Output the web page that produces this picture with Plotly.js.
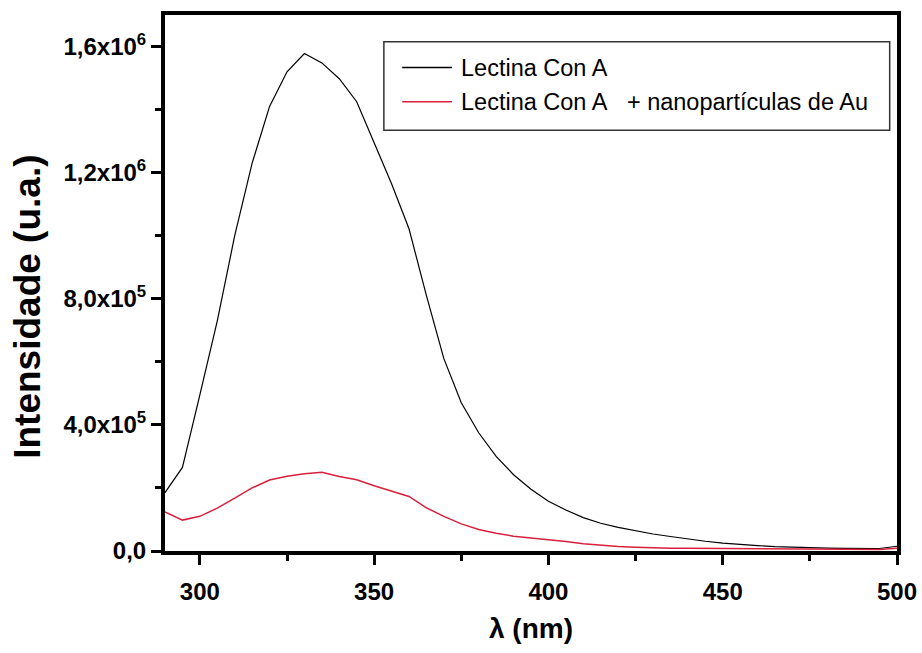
<!DOCTYPE html>
<html>
<head>
<meta charset="utf-8">
<script src="https://cdn.plot.ly/plotly-3.0.1.min.js"></script>
<style>
  html, body { margin: 0; padding: 0; background: #fff; }
  #chart { width: 922px; height: 653px; }
</style>
</head>
<body>
<div id="chart"></div>
<script>
// Emission spectra (wavelength in nm, intensity in arbitrary units)
const wavelength = [290, 295, 300, 305, 310, 315, 320, 325, 330, 335, 340, 345, 350, 355, 360,
  365, 370, 375, 380, 385, 390, 395, 400, 405, 410, 415, 420, 425, 430, 435, 440, 445, 450,
  455, 460, 465, 470, 475, 480, 485, 490, 495, 500];

const lectina = [185000, 265000, 495000, 730000, 1000000, 1230000, 1410000, 1520000, 1578000,
  1548000, 1498000, 1425000, 1295000, 1165000, 1022000, 810000, 610000, 470000, 375000, 300000,
  242000, 196000, 158000, 130000, 106000, 88000, 75000, 64000, 54000, 46000, 38000, 31000, 25000,
  20000, 17000, 14000, 12000, 10000, 9000, 8500, 8000, 8000, 15000];

const lectinaAu = [124000, 98000, 110000, 136000, 168000, 200000, 225000, 237000, 245000, 250000,
  236000, 226000, 207000, 190000, 173000, 137000, 110000, 86000, 68000, 56000, 47000, 41000,
  36000, 30000, 23000, 18000, 14000, 12000, 10000, 9000, 8500, 8000, 8000, 8000, 8000, 8000,
  7000, 6000, 5000, 5000, 5000, 5000, 9000];

const seriesNames = ['Lectina Con A', 'Lectina Con A\u00a0\u00a0 + nanopartículas de Au'];
const seriesColors = ['#000000', '#d8203c'];

const xTickVals = [300, 350, 400, 450, 500];
const yTickVals = [0, 400000, 800000, 1200000, 1600000];
const yTickText = ['0,0', '4,0x10<sup>5</sup>', '8,0x10<sup>5</sup>', '1,2x10<sup>6</sup>', '1,6x10<sup>6</sup>'];
const yMinorVals = [200000, 600000, 1000000, 1400000];

const xTitle = 'λ (nm)';
const yTitle = 'Intensidade (u.a.)';

const FONT = 'Liberation Sans, Arial, sans-serif';

const traces = [
  { x: wavelength, y: lectina, name: seriesNames[0], type: 'scatter', mode: 'lines',
    line: { color: seriesColors[0], width: 1.2 }, showlegend: false },
  { x: wavelength, y: lectinaAu, name: seriesNames[1], type: 'scatter', mode: 'lines',
    line: { color: seriesColors[1], width: 1.5 }, showlegend: false }
];

// Boxed key in the upper right of the plot area
const key = { x0: 0.299, x1: 0.990, y0: 0.785, y1: 0.950, lineX0: 0.324, lineX1: 0.392, textX: 0.401 };
const keyRows = [0.902, 0.838];

const shapes = [
  { type: 'rect', xref: 'paper', yref: 'paper', x0: key.x0, x1: key.x1, y0: key.y0, y1: key.y1,
    line: { color: '#333', width: 1.5 }, fillcolor: 'rgba(0,0,0,0)' }
];
const annotations = [];
seriesNames.forEach((name, i) => {
  shapes.push({ type: 'line', xref: 'paper', yref: 'paper', x0: key.lineX0, x1: key.lineX1,
    y0: keyRows[i], y1: keyRows[i], line: { color: seriesColors[i], width: 1.5 } });
  annotations.push({ xref: 'paper', yref: 'paper', x: key.textX, y: keyRows[i], text: name,
    showarrow: false, xanchor: 'left', yanchor: 'middle',
    font: { family: FONT, size: 23.5, color: '#000' } });
});

// Vertical axis title, set a little below the plot's mid-height
annotations.push({ xref: 'paper', yref: 'paper', x: -0.189, y: 0.455, text: yTitle,
  textangle: -90, showarrow: false, xanchor: 'center', yanchor: 'middle',
  font: { family: FONT, size: 37, color: '#000', weight: 'bold' } });

const layout = {
  width: 922, height: 653,
  margin: { l: 165, r: 25, t: 15, b: 102 },
  paper_bgcolor: '#fff', plot_bgcolor: '#fff',
  showlegend: false,
  xaxis: {
    range: [290, 500],
    tickmode: 'array', tickvals: xTickVals,
    ticks: 'outside', ticklen: 10, tickwidth: 3, tickcolor: '#000',
    ticklabelstandoff: 6,
    minor: { dtick: 25, tick0: 300, ticks: 'outside', ticklen: 6, tickwidth: 3, tickcolor: '#000', showgrid: false },
    showline: true, linecolor: '#000', linewidth: 4, mirror: true,
    showgrid: false, zeroline: false,
    tickfont: { family: FONT, size: 24, color: '#000', weight: 'bold' },
    title: { text: xTitle, font: { family: FONT, size: 28, color: '#000', weight: 'bold' }, standoff: 16 }
  },
  yaxis: {
    range: [0, 1700000],
    tickmode: 'array', tickvals: yTickVals, ticktext: yTickText,
    ticks: 'outside', ticklen: 10, tickwidth: 3, tickcolor: '#000',
    minor: { tickmode: 'array', tickvals: yMinorVals, ticks: 'outside', ticklen: 6, tickwidth: 3, tickcolor: '#000', showgrid: false },
    showline: true, linecolor: '#000', linewidth: 4, mirror: true,
    showgrid: false, zeroline: false,
    tickfont: { family: FONT, size: 24, color: '#000', weight: 'bold' }
  },
  shapes: shapes,
  annotations: annotations
};

Plotly.newPlot('chart', traces, layout, { displayModeBar: false, staticPlot: true });
</script>
</body>
</html>
